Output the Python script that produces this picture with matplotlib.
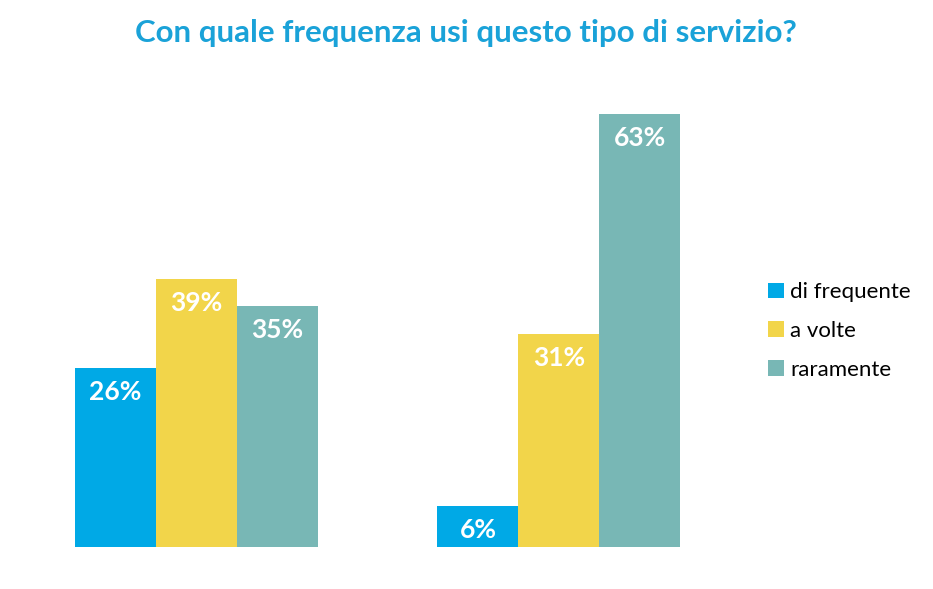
import numpy as np
import matplotlib
matplotlib.use('Agg')
import matplotlib.pyplot as plt

# data
groups = ['Gruppo 1', 'Gruppo 2']
series = ['di frequente', 'a volte', 'raramente']
values = {
	'di frequente': [26, 6],
	'a volte': [39, 31],
	'raramente': [35, 63],
}
colors = ['#00A9E6', '#F2D54A', '#78B7B5']

W, H = 933, 589
fig = plt.figure(figsize=(W/100, H/100), dpi=100)
fig.patch.set_facecolor('white')

# axes placed in pixel terms: baseline y=547, top of 63% bar y=114, x from 75 to 680
ax = fig.add_axes([75/W, (H-547)/H, (680-75)/W, (547-114)/H])

w = 0.223
x = np.arange(len(groups))
handles = []
for i, (name, col) in enumerate(zip(series, colors)):
	pos = x + (i-1)*w
	b = ax.bar(pos, values[name], width=w, color=col, linewidth=0, label=name)
	handles.append(b)
	for xp, v in zip(pos, values[name]):
		ax.annotate(f'{v}%', (xp, v), xytext=(0, -24), textcoords='offset pixels',
			ha='center', va='center', color='white', fontsize=19, fontweight='bold', family=['Lato', 'DejaVu Sans'])

ax.set_xlim(-1.5*w, 1+1.5*w)
ax.set_ylim(0, 63)
ax.axis('off')

fig.text(466/W, 1-33/H, 'Con quale frequenza usi questo tipo di servizio?', ha='center', va='center',
	color='#1AA2D8', fontsize=22.5, fontweight='bold', family=['Lato', 'DejaVu Sans'])

leg = fig.legend(handles=handles, labels=series, loc='center left', bbox_to_anchor=(748/W, 1-331/H),
	frameon=False, handlelength=0.7, handleheight=0.7, handletextpad=0.3, labelspacing=0.85,
	prop={'family': ['Lato', 'DejaVu Sans'], 'size': 16})

fig.savefig('out.png', dpi=100)
